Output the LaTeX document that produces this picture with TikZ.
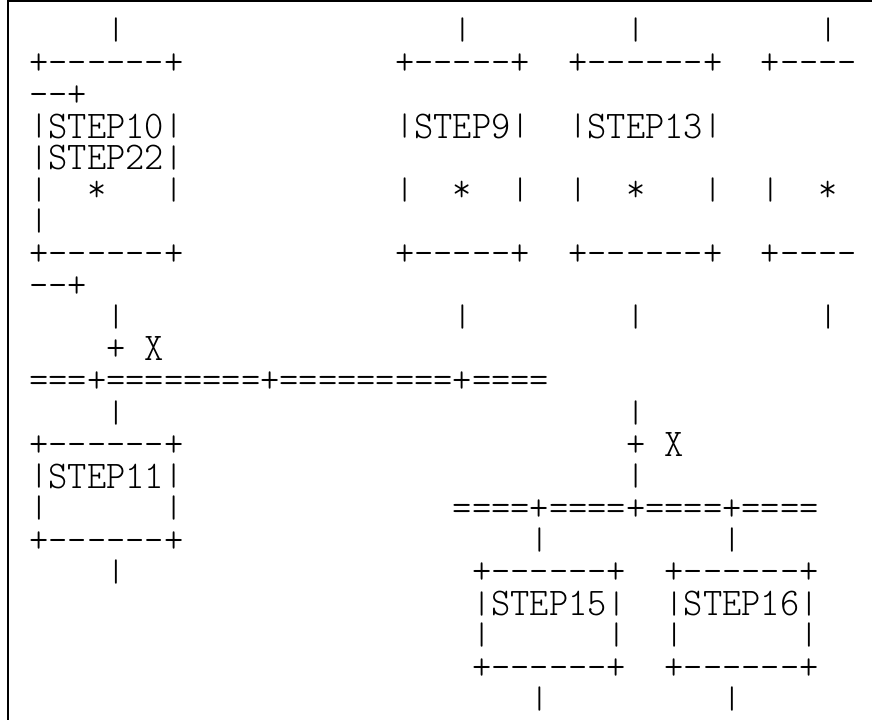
\documentclass[tikz,border=0pt]{standalone}
\usepackage{fontspec}
\usepackage{graphicx}
\newfontfamily\ascfont{lmmonolt10-regular}[Extension=.otf]
\tikzset{
  asc/.style={anchor=base west, inner sep=0pt, outer sep=0pt,
    font=\fontsize{27.5}{30}\selectfont\ascfont},
  frameline/.style={line width=1.5pt, black}
}
\newcommand\vb{\resizebox{\width}{0.62em}{\raisebox{\depth}{|}}}
\newcommand\seg[4]{\node[asc] (#1) at ({29.4+#3*19.25},{42.5+(#2-1)*31.85}) {\scalebox{1}[1.07]{#4}};}
\begin{document}
\begin{tikzpicture}[x=0.75pt, y=-0.75pt]
\useasboundingbox (0,0) rectangle (872,720);
\draw[frameline] (8,720) -- (8,0.6) -- (872,0.6);
% row 1
\seg{ra1}{1}{4}{\vb}
\seg{rb1}{1}{22}{\vb}
\seg{rc1}{1}{31}{\vb}
\seg{rd1}{1}{41}{\vb}
% row 2
\seg{ra2}{2}{0}{+------+}
\seg{rb2}{2}{19}{+-----+}
\seg{rc2}{2}{28}{+------+}
\seg{rd2}{2}{38}{+----}
% row 3
\seg{ra3}{3}{0}{--+}
% row 4
\seg{ra4}{4}{0}{\vb STEP10\vb}
\seg{rb4}{4}{19}{\vb STEP9\vb}
\seg{rc4}{4}{28}{\vb STEP13\vb}
% row 5
\seg{ra5}{5}{0}{\vb STEP22\vb}
% row 6
\seg{ra6}{6}{0}{\vb~~*~~~\vb}
\seg{rb6}{6}{19}{\vb~~*~~\vb}
\seg{rc6}{6}{28}{\vb~~*~~~\vb}
\seg{rd6}{6}{38}{\vb~~*}
% row 7
\seg{ra7}{7}{0}{\vb}
% row 8
\seg{ra8}{8}{0}{+------+}
\seg{rb8}{8}{19}{+-----+}
\seg{rc8}{8}{28}{+------+}
\seg{rd8}{8}{38}{+----}
% row 9
\seg{ra9}{9}{0}{--+}
% row 10
\seg{ra10}{10}{4}{\vb}
\seg{rb10}{10}{22}{\vb}
\seg{rc10}{10}{31}{\vb}
\seg{rd10}{10}{41}{\vb}
% row 11
\seg{ra11}{11}{4}{+~X}
% row 12
\seg{ra12}{12}{0}{===+========+=========+====}
% row 13
\seg{ra13}{13}{4}{\vb}
\seg{rb13}{13}{31}{\vb}
% row 14
\seg{ra14}{14}{0}{+------+}
\seg{rb14}{14}{31}{+~X}
% row 15
\seg{ra15}{15}{0}{\vb STEP11\vb}
\seg{rb15}{15}{31}{\vb}
% row 16
\seg{ra16}{16}{0}{\vb~~~~~~\vb}
\seg{rb16}{16}{22}{====+====+====+====}
% row 17
\seg{ra17}{17}{0}{+------+}
\seg{rb17}{17}{26}{\vb}
\seg{rc17}{17}{36}{\vb}
% row 18
\seg{ra18}{18}{4}{\vb}
\seg{rb18}{18}{23}{+------+}
\seg{rc18}{18}{33}{+------+}
% row 19
\seg{rb19}{19}{23}{\vb STEP15\vb}
\seg{rc19}{19}{33}{\vb STEP16\vb}
% row 20
\seg{rb20}{20}{23}{\vb~~~~~~\vb}
\seg{rc20}{20}{33}{\vb~~~~~~\vb}
% row 21
\seg{rb21}{21}{23}{+------+}
\seg{rc21}{21}{33}{+------+}
% row 22
\seg{rb22}{22}{26}{\vb}
\seg{rc22}{22}{36}{\vb}
\end{tikzpicture}
\end{document}
